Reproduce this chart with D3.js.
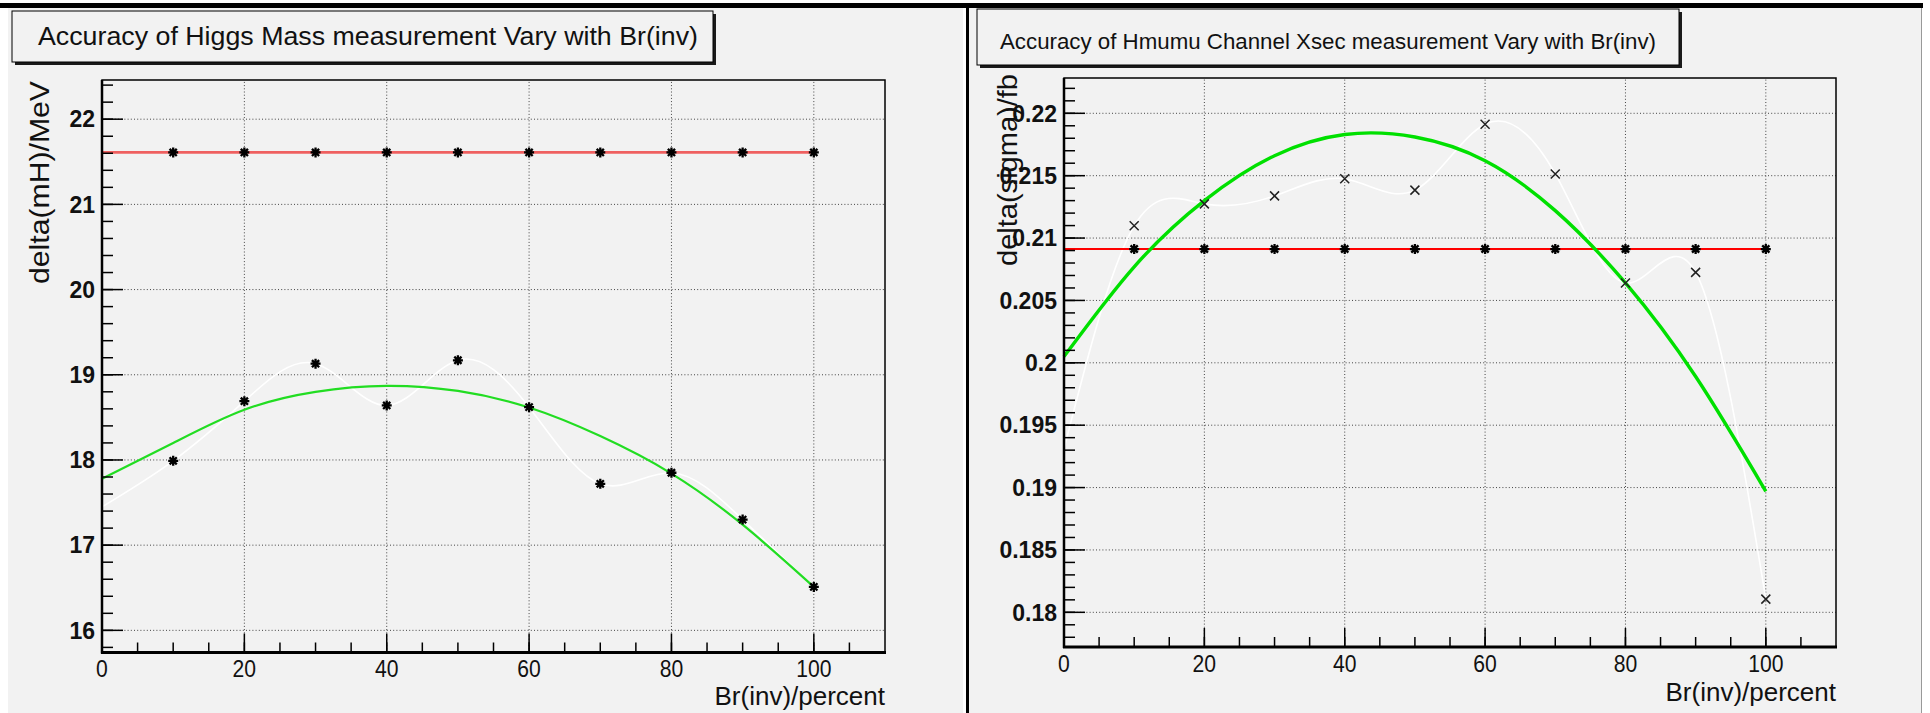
<!DOCTYPE html>
<html lang="en">
<head>
<meta charset="utf-8">
<script src="https://d3js.org/d3.v7.min.js"></script>
<style>
  body { margin: 0; background: #fff; }
  svg { display: block; font-family: "Liberation Sans", Arial, Helvetica, sans-serif; }
</style>
</head>
<body>
<svg width="1930" height="713"></svg>
<script>
  // Br(inv) in percent, first point (0) has no visible marker
  var brInv = [0, 10, 20, 30, 40, 50, 60, 70, 80, 90, 100];

  // left plot: delta(mH)/MeV
  var massFlat = [21.61, 21.61, 21.61, 21.61, 21.61, 21.61, 21.61, 21.61, 21.61, 21.61, 21.61];
  var massInv = [17.45, 17.99, 18.69, 19.13, 18.64, 19.17, 18.62, 17.72, 17.85, 17.30, 16.51];
  var massFitFlat = [21.61, 21.61];
  var massFitInv = [17.78, 18.20, 18.59, 18.80, 18.87, 18.81, 18.615, 18.28, 17.84, 17.24, 16.51];
  var massTicks = [16, 17, 18, 19, 20, 21, 22];
  var massTickLabels = ["16", "17", "18", "19", "20", "21", "22"];

  // right plot: delta(sigma)/fb
  var xsecFlat = [0.20912, 0.20912, 0.20912, 0.20912, 0.20912, 0.20912, 0.20912, 0.20912, 0.20912, 0.20912, 0.20912];
  var xsecInv = [0.1931, 0.21098, 0.21274, 0.21338, 0.21475, 0.21384, 0.21912, 0.21514, 0.2064, 0.20725, 0.18106];
  var xsecFitFlat = [0.20912, 0.20912];
  var xsecFitInv = [0.2005, 0.2077, 0.2130, 0.2166, 0.2183, 0.2181, 0.2162, 0.2122, 0.2064, 0.1989, 0.1897];
  var xsecTicks = [0.18, 0.185, 0.19, 0.195, 0.2, 0.205, 0.21, 0.215, 0.22];
  var xsecTickLabels = ["0.18", "0.185", "0.19", "0.195", "0.2", "0.205", "0.21", "0.215", "0.22"];

  var xTicks = [0, 20, 40, 60, 80, 100];
  var xTickLabels = ["0", "20", "40", "60", "80", "100"];

  var svg = d3.select("svg");
  var bg = "#f2f2f2";

  // canvas pads
  svg.append("rect").attr("x", 8).attr("y", 8).attr("width", 955).attr("height", 705).attr("fill", bg);
  svg.append("rect").attr("x", 969).attr("y", 8).attr("width", 952).attr("height", 705).attr("fill", bg);
  svg.append("rect").attr("x", 0).attr("y", 3).attr("width", 1923).attr("height", 5).attr("fill", "#000");
  svg.append("rect").attr("x", 966).attr("y", 3).attr("width", 3).attr("height", 710).attr("fill", "#000");
  svg.append("line").attr("x1", 1921.5).attr("x2", 1921.5).attr("y1", 8).attr("y2", 713)
    .attr("stroke", "#999").attr("stroke-width", 1);

  function drawPanel(p) {
    var g = svg.append("g");
    var x = d3.scaleLinear().domain([0, 110]).range([p.left, p.right]);
    var y = d3.scaleLinear().domain(p.yDomain).range([p.bottom, p.top]);

    // title box with shadow
    var b = p.box;
    g.append("rect").attr("x", b.x + 3).attr("y", b.y + 3).attr("width", b.w).attr("height", b.h).attr("fill", "#1a1a1a");
    g.append("rect").attr("x", b.x).attr("y", b.y).attr("width", b.w).attr("height", b.h)
      .attr("fill", bg).attr("stroke", "#000").attr("stroke-width", 1);
    g.append("text").attr("x", b.tx).attr("y", b.ty)
      .attr("font-size", b.fs + "px").attr("fill", "#111")
      .attr("textLength", b.tl).attr("lengthAdjust", "spacingAndGlyphs")
      .text(p.title);

    // grid
    var grid = g.append("g").attr("stroke", "#444").attr("stroke-width", 1).attr("stroke-dasharray", "1,2.2");
    grid.selectAll(".gx").data(xTicks.filter(function (d) { return d > 0; })).enter().append("line")
      .attr("x1", function (d) { return x(d); }).attr("x2", function (d) { return x(d); })
      .attr("y1", p.bottom).attr("y2", p.top);
    grid.selectAll(".gy").data(p.ticks).enter().append("line")
      .attr("x1", p.left).attr("x2", p.right)
      .attr("y1", function (d) { return y(d); }).attr("y2", function (d) { return y(d); });

    // smooth graph line
    var pts = brInv.map(function (d, i) { return [d, p.inv[i]]; });
    g.append("path").datum(pts)
      .attr("fill", "none").attr("stroke", "#fff").attr("stroke-width", 1.6)
      .attr("d", d3.line().x(function (d) { return x(d[0]); }).y(function (d) { return y(d[1]); }).curve(d3.curveNatural));

    // constant fit
    g.append("line")
      .attr("x1", x(0)).attr("x2", x(100))
      .attr("y1", y(p.fitFlat[0])).attr("y2", y(p.fitFlat[1]))
      .attr("stroke", p.red).attr("stroke-width", p.redW);

    // quadratic fit
    var fitPts = brInv.map(function (d, i) { return [d, p.fitInv[i]]; });
    g.append("path").datum(fitPts)
      .attr("fill", "none").attr("stroke", p.green).attr("stroke-width", p.greenW)
      .attr("d", d3.line().x(function (d) { return x(d[0]); }).y(function (d) { return y(d[1]); }).curve(d3.curveNatural));

    // markers
    var star = "M-5,0H5M0,-5V5M-3.6,-3.6L3.6,3.6M-3.6,3.6L3.6,-3.6";
    var cross = "M-4.5,-4.5L4.5,4.5M-4.5,4.5L4.5,-4.5";
    var flatPts = brInv.map(function (d, i) { return [d, p.flat[i]]; }).filter(function (d) { return d[0] > 0; });
    g.selectAll(".mf").data(flatPts).enter().append("path")
      .attr("transform", function (d) { return "translate(" + x(d[0]) + "," + y(d[1]) + ")"; })
      .attr("d", star).attr("stroke", "#000").attr("stroke-width", 2.3).attr("fill", "none");
    g.selectAll(".mi").data(pts.filter(function (d) { return d[0] > 0; })).enter().append("path")
      .attr("transform", function (d) { return "translate(" + x(d[0]) + "," + y(d[1]) + ")"; })
      .attr("d", p.invStar ? star : cross).attr("stroke", p.invStar ? "#000" : "#222")
      .attr("stroke-width", p.invStar ? 2.3 : 1.5).attr("fill", "none");

    // frame
    g.append("rect").attr("x", p.left).attr("y", p.top).attr("width", p.right - p.left).attr("height", p.bottom - p.top)
      .attr("fill", "none").attr("stroke", "#000").attr("stroke-width", 1.5);
    g.append("line").attr("x1", p.left).attr("x2", p.left).attr("y1", p.top).attr("y2", p.bottom + 1)
      .attr("stroke", "#000").attr("stroke-width", 2.5);
    g.append("line").attr("x1", p.left - 1).attr("x2", p.right + 1).attr("y1", p.bottom).attr("y2", p.bottom)
      .attr("stroke", "#000").attr("stroke-width", 3);

    // y ticks (inside, on the left axis)
    var minorY = d3.range(Math.ceil(p.yDomain[0] / p.minorStep), Math.floor(p.yDomain[1] / p.minorStep) + 1)
      .map(function (k) { return k * p.minorStep; });
    var tk = g.append("g").attr("stroke", "#000").attr("stroke-width", 1.5);
    tk.selectAll(".my").data(minorY).enter().append("line")
      .attr("x1", p.left).attr("x2", p.left + 11)
      .attr("y1", function (d) { return y(d); }).attr("y2", function (d) { return y(d); });
    tk.selectAll(".My").data(p.ticks).enter().append("line")
      .attr("x1", p.left).attr("x2", p.left + 21)
      .attr("y1", function (d) { return y(d); }).attr("y2", function (d) { return y(d); });
    // x ticks
    tk.selectAll(".mx").data(d3.range(5, 110, 5)).enter().append("line")
      .attr("x1", function (d) { return x(d); }).attr("x2", function (d) { return x(d); })
      .attr("y1", p.bottom).attr("y2", p.bottom - 10);
    tk.selectAll(".Mx").data(xTicks).enter().append("line")
      .attr("x1", function (d) { return x(d); }).attr("x2", function (d) { return x(d); })
      .attr("y1", p.bottom).attr("y2", p.bottom - 19);

    // tick labels
    g.selectAll(".ly").data(p.ticks).enter().append("text")
      .attr("x", p.left - 7).attr("y", function (d) { return y(d); }).attr("dy", "0.36em")
      .attr("text-anchor", "end").attr("font-size", "23px").attr("font-weight", "bold").attr("fill", "#111")
      .text(function (d, i) { return p.tickLabels[i]; });
    g.selectAll(".lx").data(xTicks).enter().append("text")
      .attr("x", function (d) { return x(d); }).attr("y", p.bottom + 16).attr("dy", "0.36em")
      .attr("text-anchor", "middle").attr("font-size", "24px").attr("fill", "#111")
      .attr("transform", function (d) { return "translate(" + x(d) + ",0) scale(0.88,1) translate(" + (-x(d)) + ",0)"; })
      .text(function (d, i) { return xTickLabels[i]; });

    // axis titles
    g.append("text").attr("x", p.right).attr("y", p.xTitleY)
      .attr("text-anchor", "end").attr("font-size", "26px").attr("fill", "#111")
      .text("Br(inv)/percent");
    g.append("text").attr("transform", "translate(" + p.yTitleX + "," + p.yTitleTop + ") rotate(-90)")
      .attr("text-anchor", "end").attr("font-size", "28px").attr("fill", "#111")
      .attr("textLength", p.yTitleLen).attr("lengthAdjust", "spacingAndGlyphs")
      .text(p.yTitle);
  }

  drawPanel({
    left: 102, right: 885, top: 80, bottom: 652.5,
    yDomain: [15.74, 22.46], minorStep: 0.2,
    ticks: massTicks, tickLabels: massTickLabels,
    flat: massFlat, inv: massInv, fitFlat: massFitFlat, fitInv: massFitInv,
    red: "#ef6060", redW: 2.6, green: "#22dd22", greenW: 2.2, invStar: true,
    title: "Accuracy of Higgs Mass measurement Vary with Br(inv)",
    box: { x: 12, y: 11, w: 701, h: 51, tx: 38, ty: 45, fs: 26.5, tl: 660 },
    yTitle: "delta(mH)/MeV", yTitleX: 49, yTitleTop: 81, yTitleLen: 203, xTitleY: 705
  });

  drawPanel({
    left: 1064, right: 1836, top: 78, bottom: 647,
    yDomain: [0.17722, 0.22283], minorStep: 0.001,
    ticks: xsecTicks, tickLabels: xsecTickLabels,
    flat: xsecFlat, inv: xsecInv, fitFlat: xsecFitFlat, fitInv: xsecFitInv,
    red: "#ff0000", redW: 2, green: "#00e000", greenW: 3.4, invStar: false,
    title: "Accuracy of Hmumu Channel Xsec measurement Vary with Br(inv)",
    box: { x: 977, y: 9, w: 702, h: 56, tx: 1000, ty: 49, fs: 22, tl: 656 },
    yTitle: "delta(sigma)/fb", yTitleX: 1017, yTitleTop: 74, yTitleLen: 192, xTitleY: 701
  });
</script>
</body>
</html>
